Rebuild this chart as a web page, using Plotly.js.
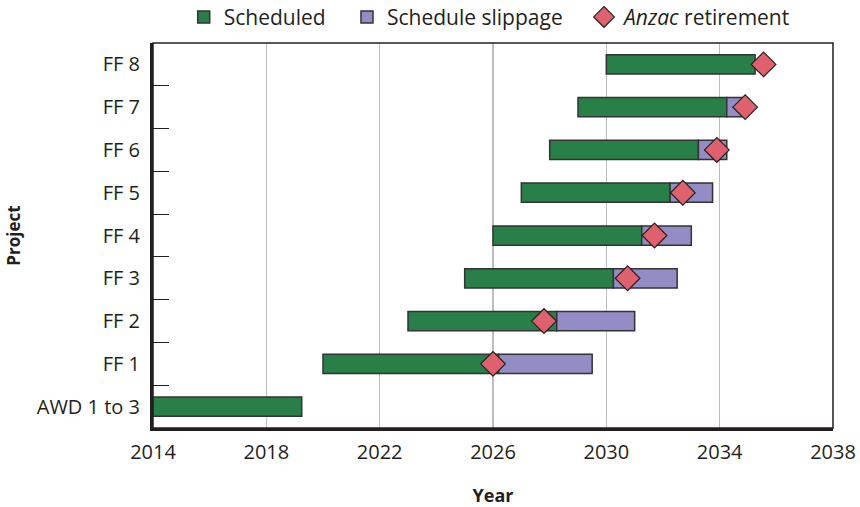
<!DOCTYPE html>
<html><head><meta charset="utf-8">
<script src="https://cdn.plot.ly/plotly-3.0.1.min.js"></script>
<style>html,body{margin:0;padding:0;background:#fff}#chart{width:860px;height:507px}</style>
</head><body><div id="chart"></div>
<script>
const projects = ["AWD 1 to 3","FF 1","FF 2","FF 3","FF 4","FF 5","FF 6","FF 7","FF 8"];
const schedStart = [2014, 2020, 2023, 2025, 2026, 2027, 2028, 2029, 2030];
const schedEnd   = [2019.25, 2026.2, 2028.25, 2030.25, 2031.25, 2032.25, 2033.25, 2034.25, 2035.25];
const slipEnd    = [null, 2029.5, 2031.0, 2032.5, 2033.0, 2033.75, 2034.25, 2034.8, null];
const retirement = [null, 2026.0, 2027.8, 2030.75, 2031.7, 2032.7, 2033.9, 2034.9, 2035.55];
const xTicks = [2014, 2018, 2022, 2026, 2030, 2034, 2038];
const seriesNames = ["Scheduled", "Schedule slippage", "<i>Anzac</i> retirement"];

const FONT = "Open Sans, Noto Sans, sans-serif";
const dark = "#231f20";
const pad = "&nbsp;&nbsp;&nbsp;";

const schedLen = schedStart.map((s,i)=> schedEnd[i]-s);
const slipLen = slipEnd.map((e,i)=> e==null ? null : e-schedEnd[i]);

const traces = [
  {type:"bar", orientation:"h", name:seriesNames[0]+pad, y:projects, base:schedStart, x:schedLen,
   width:0.45, marker:{color:"#287f48", line:{color:"#333", width:1.5}}, hoverinfo:"skip"},
  {type:"bar", orientation:"h", name:seriesNames[1]+pad, y:projects, base:schedEnd, x:slipLen,
   width:0.45, marker:{color:"#948cc4", line:{color:"#333", width:1.5}}, hoverinfo:"skip"},
  {type:"scatter", mode:"markers", name:seriesNames[2], y:projects, x:retirement,
   marker:{symbol:"diamond", size:19, color:"#e0616e", line:{color:"#222", width:1.2}}, hoverinfo:"skip"}
];

const layout = {
  width:860, height:507,
  margin:{l:153, r:27, t:43, b:79},
  barmode:"overlay",
  paper_bgcolor:"#fff", plot_bgcolor:"#fff",
  font:{family:FONT, color:dark, size:20},
  showlegend:true,
  legend:{orientation:"h", x:0.57, xref:"container", xanchor:"center", y:0.966, yref:"container", yanchor:"middle",
          font:{size:21, family:FONT, color:dark}, traceorder:"normal", itemwidth:30,
          bgcolor:"rgba(0,0,0,0)"},
  xaxis:{range:[2014,2038], tickvals:xTicks, ticktext:xTicks.map(String),
         showgrid:true, gridcolor:"#bdbdbd", gridwidth:1.5,
         showline:true, linecolor:dark, linewidth:3, ticks:"", zeroline:false,
         tickfont:{size:20}, ticklabelstandoff:4,
         title:{text:"<b>Year</b>", font:{size:18}, standoff:26}},
  yaxis:{type:"category", categoryorder:"array", categoryarray:projects,
         range:[-0.5, 8.5], showgrid:false, showline:true, linecolor:dark, linewidth:3,
         ticks:"inside", tickson:"boundaries", ticklen:16, tickwidth:1.2, tickcolor:dark,
         tickfont:{size:20}, ticklabelstandoff:6, zeroline:false,
         title:{text:"<b>Project</b>", font:{size:17}, standoff:12}},
  shapes:[{type:"rect", xref:"paper", yref:"paper", x0:0, x1:1, y0:0, y1:1,
           line:{color:dark, width:1.5}, layer:"above"}]
};

Plotly.newPlot("chart", traces, layout, {displayModeBar:false, staticPlot:true});
</script></body></html>
